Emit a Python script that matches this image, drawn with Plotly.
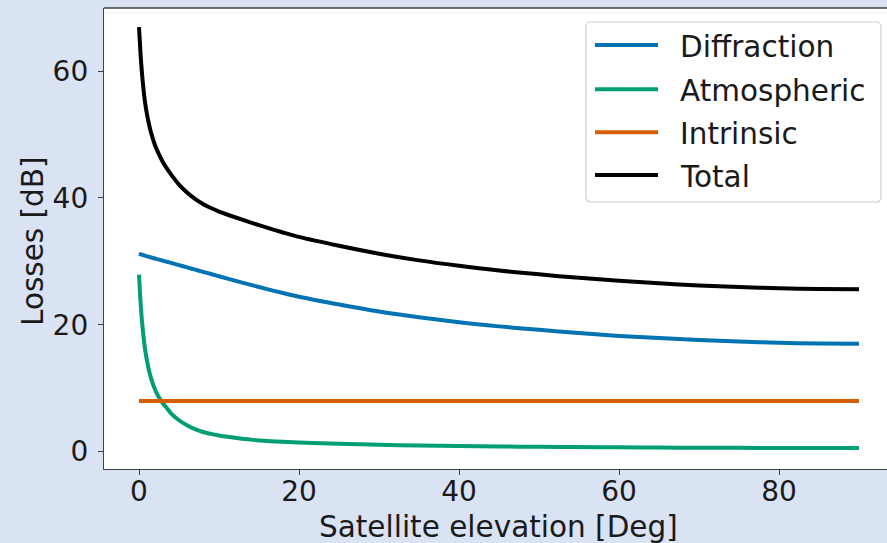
import plotly.graph_objects as go

# ---- data ----
elevation = [0, 0.1, 0.2, 0.35, 0.5, 0.75, 1, 1.25, 1.5, 2, 2.5, 3, 3.5, 4, 5, 6, 7, 8, 9, 10,
             12, 14, 16, 18, 20, 25, 30, 35, 40, 45, 50, 55, 60, 65, 70, 75, 80, 85, 90]
diffraction = [31.2, 31.15, 31.1, 31.05, 31.0, 30.9, 30.8, 30.71, 30.62, 30.45, 30.27,
               30.1, 29.93, 29.75, 29.4, 29.05, 28.7, 28.35, 28.0, 27.65, 26.95, 26.28, 25.63,
               25.0, 24.42, 23.2, 22.1, 21.2, 20.4, 19.75, 19.2, 18.7, 18.25, 17.9, 17.6,
               17.35, 17.17, 17.05, 17.0]
atmospheric = [27.9, 25.5, 23.4, 20.9, 18.9, 16.2, 14.3, 12.8, 11.6, 9.8, 8.55, 7.6, 6.85,
               6.05, 4.95, 4.15, 3.55, 3.1, 2.8, 2.55, 2.2, 1.9, 1.7, 1.55, 1.45, 1.25, 1.08,
               0.97, 0.89, 0.82, 0.77, 0.72, 0.68, 0.65, 0.62, 0.6, 0.59, 0.58, 0.58]
intrinsic = [8.0] * len(elevation)
total = [66.9, 64.7, 62.5, 60.0, 57.9, 55.1, 53.15, 51.6, 50.3, 48.3, 46.85, 45.6, 44.6,
         43.7, 42.1, 40.85, 39.85, 39.05, 38.4, 37.85, 36.95, 36.1, 35.3, 34.55, 33.85,
         32.45, 31.2, 30.15, 29.3, 28.55, 27.95, 27.4, 26.95, 26.55, 26.2, 25.95, 25.75,
         25.65, 25.6]

series_names = ["Diffraction", "Atmospheric", "Intrinsic", "Total"]
series_values = [diffraction, atmospheric, intrinsic, total]
series_colors = ["#0173b2", "#029e73", "#d55e00", "#000000"]

x_ticks = [0, 20, 40, 60, 80]
y_ticks = [0, 20, 40, 60]

FONT = "DejaVu Sans"
W, H = 887, 543
ML, MR, MT, MB = 104, 0, 8, 74
PW, PH = W - ML - MR, H - MT - MB


def px(x):
    return (x - ML) / PW


def py(y):
    return (H - MB - y) / PH


fig = go.Figure()
for name, vals, col in zip(series_names, series_values, series_colors):
    fig.add_trace(go.Scatter(x=elevation, y=vals, mode="lines", name=name,
                             line=dict(color=col, width=4, shape="spline", smoothing=0.8),
                             showlegend=False))

axis_common = dict(showgrid=False, zeroline=False, showline=True, linecolor="#404040",
                   linewidth=1.3, ticks="outside", ticklen=5, tickwidth=1.2,
                   tickcolor="#404040", tickfont=dict(family=FONT, size=28, color="#1a1a1a"))

fig.update_xaxes(range=[-4.375, 93.5], tickvals=x_ticks, ticklabelstandoff=-8, **axis_common)
fig.update_yaxes(range=[-2.73, 69.93], tickvals=y_ticks, ticklabelstandoff=4, **axis_common)

shapes = [dict(type="line", xref="paper", yref="paper", x0=0, x1=1, y0=1, y1=1,
               line=dict(color="#404040", width=1.3), layer="above")]

# legend box
x0, x1 = px(586), px(881)
y0, y1 = py(202), py(22)
rx, ry = 5 / PW, 5 / PH
path = (f"M{x0+rx},{y1} L{x1-rx},{y1} Q{x1},{y1} {x1},{y1-ry} "
        f"L{x1},{y0+ry} Q{x1},{y0} {x1-rx},{y0} L{x0+rx},{y0} Q{x0},{y0} {x0},{y0+ry} "
        f"L{x0},{y1-ry} Q{x0},{y1} {x0+rx},{y1} Z")
shapes.append(dict(type="path", path=path, xref="paper", yref="paper",
                   fillcolor="white", line=dict(color="#d0d0d0", width=1.2), layer="above"))

annotations = []
leg_y = [45, 89.3, 132.3, 175]
for name, col, yy in zip(series_names, series_colors, leg_y):
    shapes.append(dict(type="line", xref="paper", yref="paper", x0=px(595), x1=px(658),
                       y0=py(yy), y1=py(yy), line=dict(color=col, width=4), layer="above"))
    annotations.append(dict(x=px(678), y=py(yy + 2), xref="paper", yref="paper",
                            text=name, showarrow=False, xanchor="left", yanchor="middle",
                            font=dict(family=FONT, size=29.5, color="#1a1a1a")))

annotations.append(dict(x=px(498.5), y=py(527), xref="paper", yref="paper",
                        text="Satellite elevation [Deg]", showarrow=False,
                        xanchor="center", yanchor="middle",
                        font=dict(family=FONT, size=29.5, color="#1a1a1a")))
annotations.append(dict(x=px(33), y=py(241), xref="paper", yref="paper",
                        text="Losses [dB]", showarrow=False, textangle=-90,
                        xanchor="center", yanchor="middle",
                        font=dict(family=FONT, size=29.5, color="#1a1a1a")))

fig.update_layout(width=W, height=H, autosize=False,
                  margin=dict(l=ML, r=MR, t=MT, b=MB, pad=0),
                  paper_bgcolor="#dae3f3", plot_bgcolor="white",
                  shapes=shapes, annotations=annotations, showlegend=False,
                  hovermode=False)

fig.write_html("out.html")
